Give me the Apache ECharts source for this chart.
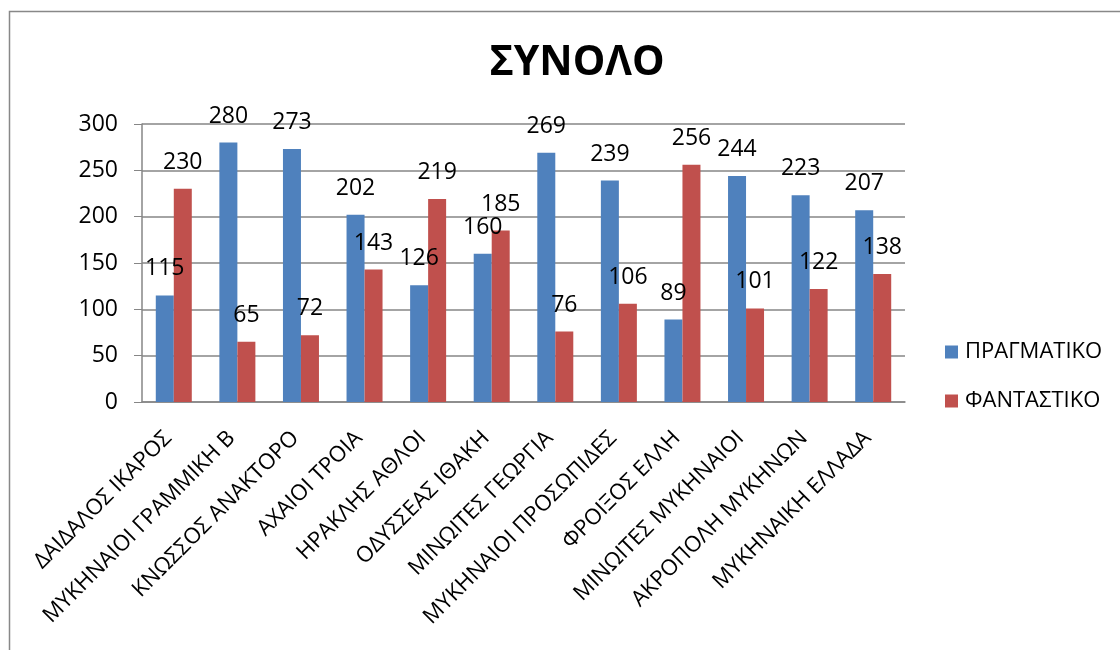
<!DOCTYPE html>
<html><head><meta charset="utf-8">
<script src="https://cdn.jsdelivr.net/npm/echarts@6/dist/echarts.min.js"></script>
<style>html,body{margin:0;padding:0;background:#fff}#c{width:1120px;height:650px}</style>
</head><body><div id="c"></div>
<script>
const categories = ['ΔΑΙΔΑΛΟΣ ΙΚΑΡΟΣ','ΜΥΚΗΝΑΙΟΙ ΓΡΑΜΜΙΚΗ Β','ΚΝΩΣΣΟΣ ΑΝΑΚΤΟΡΟ','ΑΧΑΙΟΙ ΤΡΟΙΑ','ΗΡΑΚΛΗΣ ΑΘΛΟΙ','ΟΔΥΣΣΕΑΣ ΙΘΑΚΗ','ΜΙΝΩΙΤΕΣ ΓΕΩΡΓΙΑ','ΜΥΚΗΝΑΙΟΙ ΠΡΟΣΩΠΙΔΕΣ','ΦΡΟΙΞΟΣ ΕΛΛΗ','ΜΙΝΩΙΤΕΣ ΜΥΚΗΝΑΙΟΙ','ΑΚΡΟΠΟΛΗ ΜΥΚΗΝΩΝ','ΜΥΚΗΝΑΙΚΗ ΕΛΛΑΔΑ'];
const realValues = [115,280,273,202,126,160,269,239,89,244,223,207];
const fantasyValues = [230,65,72,143,219,185,76,106,256,101,122,138];
const seriesNames = ['ΠΡΑΓΜΑΤΙΚΟ','ΦΑΝΤΑΣΤΙΚΟ'];
const titleText = 'ΣΥΝΟΛΟ';

const font = 'Open Sans';
const chart = echarts.init(document.getElementById('c'));
const lbl = {show:true, position:'top', distance:15, color:'#000', fontFamily:font, fontWeight:500, fontSize:23};
chart.setOption({
  animation:false,
  graphic:[{type:'rect', shape:{x:9.5,y:11.5,width:1120,height:660}, style:{fill:'none', stroke:'#888', lineWidth:1.5}}],
  title:{text:titleText, left:572, top:38, textAlign:'center', textStyle:{fontFamily:font, fontWeight:'bold', fontSize:41, color:'#000'}},
  legend:{orient:'vertical', left:940, top:336, itemWidth:13, itemHeight:13, itemGap:27, icon:'rect',
    textStyle:{fontFamily:font, fontWeight:500, fontSize:22, color:'#000', padding:[0,0,0,2]}},
  grid:{left:142, right:215, top:124, bottom:248, containLabel:false},
  xAxis:{type:'category', data:categories,
    axisLine:{lineStyle:{color:'#868686', width:1.5}},
    axisTick:{show:false},
    axisLabel:{rotate:45, interval:0, color:'#000', fontFamily:font, fontWeight:500, fontSize:22, margin:27, padding:[0,8,0,0]}},
  yAxis:{type:'value', min:0, max:300, interval:50,
    axisLine:{show:true, lineStyle:{color:'#868686', width:1.5}},
    axisTick:{show:true, length:8, lineStyle:{color:'#868686'}},
    splitLine:{lineStyle:{color:'#868686', width:1.5}},
    axisLabel:{color:'#000', fontFamily:font, fontWeight:500, fontSize:23, margin:24}},
  series:[
    {name:seriesNames[0], type:'bar', data:realValues, barWidth:18, barGap:'0%', itemStyle:{color:'#4F81BD'}, label:lbl},
    {name:seriesNames[1], type:'bar', data:fantasyValues, barWidth:18, itemStyle:{color:'#C0504D'}, label:lbl}
  ]
});
</script></body></html>
